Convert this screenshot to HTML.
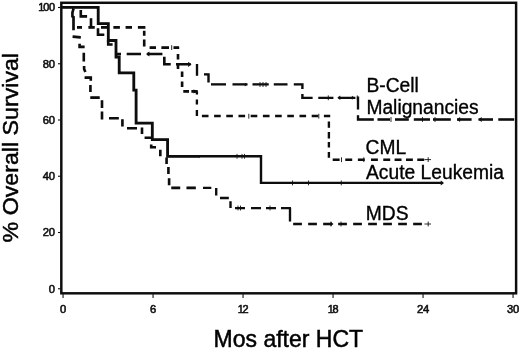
<!DOCTYPE html>
<html><head><meta charset="utf-8"><title>Overall Survival</title>
<style>
html,body{margin:0;padding:0;background:#fff;}
body{width:520px;height:349px;overflow:hidden;}
svg{display:block;}
text{font-family:"Liberation Sans",sans-serif;fill:#050505;}
</style></head><body>
<svg width="520" height="349" viewBox="0 0 520 349">
<defs><filter id="soft" x="0" y="0" width="520" height="349" filterUnits="userSpaceOnUse"><feGaussianBlur stdDeviation="0.38"/></filter></defs>
<rect x="0" y="0" width="520" height="349" fill="#ffffff"/>
<g filter="url(#soft)">
<rect x="61.3" y="2.8" width="454.8" height="290.5" fill="none" stroke="#080808" stroke-width="2.45"/>
<g stroke="#111" stroke-width="1.1">
<line x1="58" y1="288.75" x2="60.5" y2="288.75"/>
<line x1="58" y1="232.50" x2="60.5" y2="232.50"/>
<line x1="58" y1="176.25" x2="60.5" y2="176.25"/>
<line x1="58" y1="120.00" x2="60.5" y2="120.00"/>
<line x1="58" y1="63.75" x2="60.5" y2="63.75"/>
<line x1="58" y1="7.50" x2="60.5" y2="7.50"/>
<line x1="63.05" y1="294" x2="63.05" y2="298.1"/>
<line x1="153.05" y1="294" x2="153.05" y2="298.1"/>
<line x1="243.05" y1="294" x2="243.05" y2="298.1"/>
<line x1="333.05" y1="294" x2="333.05" y2="298.1"/>
<line x1="423.05" y1="294" x2="423.05" y2="298.1"/>
<line x1="513.05" y1="294" x2="513.05" y2="298.1"/>
</g>
<g stroke="#0d0d0d" stroke-width="0.55" letter-spacing="-0.3">
<text transform="translate(54.70,292.50) scale(1.020,1)" font-size="11.00" text-anchor="end">0</text>
<text transform="translate(54.70,236.25) scale(1.020,1)" font-size="11.00" text-anchor="end">20</text>
<text transform="translate(54.70,180.00) scale(1.020,1)" font-size="11.00" text-anchor="end">40</text>
<text transform="translate(54.70,123.75) scale(1.020,1)" font-size="11.00" text-anchor="end">60</text>
<text transform="translate(54.70,67.50) scale(1.020,1)" font-size="11.00" text-anchor="end">80</text>
<text transform="translate(54.70,11.25) scale(1.020,1)" font-size="10.70" text-anchor="end">1<tspan dx="-0.9">00</tspan></text>
<text transform="translate(63.05,313.10) scale(1.020,1)" font-size="11.00" text-anchor="middle">0</text>
<text transform="translate(153.05,313.10) scale(1.020,1)" font-size="11.00" text-anchor="middle">6</text>
<text transform="translate(243.05,313.10) scale(1.020,1)" font-size="10.70" text-anchor="middle">1<tspan dx="-0.9">2</tspan></text>
<text transform="translate(333.05,313.10) scale(1.020,1)" font-size="10.70" text-anchor="middle">1<tspan dx="-0.9">8</tspan></text>
<text transform="translate(423.05,313.10) scale(1.020,1)" font-size="11.00" text-anchor="middle">24</text>
<text transform="translate(513.05,313.10) scale(1.020,1)" font-size="11.00" text-anchor="middle">30</text>
</g>
<text transform="translate(288.30,346.80) scale(0.975,1)" font-size="23.60" text-anchor="middle" stroke="#050505" stroke-width="0.5">Mos after HCT</text>
<text transform="translate(18.4,147.7) rotate(-90) scale(1.074,1)" font-size="21.6" text-anchor="middle" stroke="#050505" stroke-width="0.45">% Overall Survival</text>
<text transform="translate(366.40,91.60) scale(0.997,1)" font-size="19.30" text-anchor="start" stroke="#050505" stroke-width="0.35">B-Cell</text>
<text transform="translate(366.40,113.50) scale(0.997,1)" font-size="19.30" text-anchor="start" stroke="#050505" stroke-width="0.35">Malignancies</text>
<text transform="translate(365.60,153.60) scale(0.997,1)" font-size="19.30" text-anchor="start" stroke="#050505" stroke-width="0.35">CML</text>
<text transform="translate(366.00,178.50) scale(0.997,1)" font-size="19.30" text-anchor="start" stroke="#050505" stroke-width="0.35">Acute Leukemia</text>
<text transform="translate(365.80,219.60) scale(0.997,1)" font-size="19.30" text-anchor="start" stroke="#050505" stroke-width="0.35">MDS</text>
<path d="M61.30 7.30 H98.20 V23.60 H108.30 V40.50 H116.00 V57.00 H119.20 V72.80 H133.80 V90.20 H136.10 V123.20 H152.30 V139.60 H167.60 V156.30 H200.00" fill="none" stroke="#080808" stroke-width="2.80" stroke-linejoin="miter"/>
<path d="M199.00 156.30 H261.00 V182.90 H442.50" fill="none" stroke="#080808" stroke-width="2.40" stroke-linejoin="miter"/>
<path d="M73.6 8.3 L72.4 12.6 V16.4 L73.5 17 V30.2 M72.6 36.6 L80.8 37.4 M79.6 43.8 V46.9 H84.6 M83.80 52.70 V61.50 M84.1 65.9 V69 L85.4 72 M84.6 77.6 H90.8 V80.8 M90.40 85.00 V92.00 M90.30 97.60 H99.70 M102.00 100.20 V108.00 M102.00 111.50 V119.40 M109.00 118.30 H118.80 M122.40 119.20 V126.40 M127.00 128.20 H137.00 M142.00 127.40 V134.00 M144.60 137.80 H151.00 M151.2 144.6 V147.3 H156 M160.30 149.70 V156.30 M166.60 157.50 V163.90 M168.40 167.00 V174.00 M169.1 178.3 V185.3 M171.30 187.90 H180.20 M186.50 187.90 H195.80" fill="none" stroke="#080808" stroke-width="2.60"/>
<path d="M203.00 187.90 H211.30 M216.20 187.90 V195.50 M220.00 198.00 H228.80 M230.50 201.20 V208.00 M235.00 208.10 H245.00 M251.00 208.10 H261.00 M266.00 208.10 H276.00 M281.00 208.10 H291.00 M290.00 208.10 V221.60 M293.20 224.00 H301.90 M308.20 224.00 H316.90 M323.20 224.00 H331.90 M338.20 224.00 H346.90 M353.20 224.00 H361.90 M368.20 224.00 H376.90 M383.20 224.00 H391.90 M398.20 224.00 H406.90 M413.20 224.00 H421.90" fill="none" stroke="#080808" stroke-width="2.35"/>
<path d="M77.00 27.40 H82.00 M88.40 27.40 H94.70 M101.00 27.40 H107.30 M113.40 27.40 H119.90 M125.60 27.40 H132.00 M137.90 27.40 H145.30 M144.20 27.40 V28.50 M144.20 30.80 V35.80 M144.20 39.60 V46.50 M149.60 47.60 H156.00 M161.40 47.60 H169.00 M173.50 47.60 H179.10 M178.00 47.60 V48.50 M178.00 53.90 V59.60 M178.00 64.20 V69.00 M182.10 71.50 V77.00 M182.10 81.40 V87.10 M183.30 91.40 H189.00 M191.40 91.40 H197.70" fill="none" stroke="#080808" stroke-width="2.60"/>
<path d="M196.90 91.40 V94.60 M196.90 99.40 V104.40 M196.90 110.10 V116.10 M201.90 116.00 H208.50 M214.10 116.00 H220.70 M226.30 116.00 H232.90 M238.50 116.00 H245.10 M250.70 116.00 H257.30 M262.90 116.00 H269.50 M275.10 116.00 H281.70 M287.30 116.00 H293.90 M299.50 116.00 H306.10 M311.70 116.00 H318.30 M323.90 116.00 H330.20 M328.90 121.40 V127.70 M328.90 132.10 V138.40 M328.90 141.90 V147.60 M328.90 152.00 V157.70 M332.70 159.70 H339.60 M345.30 159.70 H352.20 M357.90 159.70 H364.80 M371.00 159.70 H377.90 M383.30 159.70 H390.20 M394.60 159.70 H401.50 M406.00 159.70 H412.90 M417.30 159.70 H424.20" fill="none" stroke="#080808" stroke-width="2.35"/>
<path d="M80.8 10 V16.4 H87.1 M91.00 18.30 V27.50 M98 28.3 V34.7 H104.3 M108.2 40 V44.5 H112.6 M117.00 54.00 H121.00 M126.70 54.00 H141.00 M147.00 54.00 H162.40 M164.3 56.8 V64.3 H170.7 M176.00 64.30 H190.60" fill="none" stroke="#080808" stroke-width="2.60"/>
<path d="M197.00 64.00 V75.80 M204 74.4 H208.5 V82.5 M211.00 84.40 H226.00 M232.50 84.40 H247.50 M252.50 84.40 H268.70 M273.80 84.40 H287.50 M293.8 84.4 H302.4 V88.9 M302.4 93.9 V97.8 H312.6 M318.30 97.80 H333.40 M338.50 97.80 H355.40 M358 96.5 V109.6 M358 115.3 V119.5 H373.8 M377.50 119.50 H390.00 M395.00 119.50 H408.80 M413.80 119.50 H430.00 M433.00 119.50 H450.80 M457.00 119.50 H471.60 M478.50 119.50 H493.00 M498.30 119.50 H514.20" fill="none" stroke="#080808" stroke-width="2.35"/>
<g stroke="#111" stroke-width="0.9">
<line x1="237.00" y1="153.90" x2="237.00" y2="158.70"/>
<line x1="242.00" y1="153.90" x2="242.00" y2="158.70"/>
<line x1="244.50" y1="153.90" x2="244.50" y2="158.70"/>
<line x1="292.50" y1="180.50" x2="292.50" y2="185.30"/>
<line x1="308.50" y1="180.50" x2="308.50" y2="185.30"/>
<line x1="341.30" y1="180.50" x2="341.30" y2="185.30"/>
<line x1="171.70" y1="45.20" x2="171.70" y2="50.00"/>
<line x1="248.80" y1="113.80" x2="248.80" y2="118.60"/>
<line x1="318.80" y1="113.80" x2="318.80" y2="118.60"/>
<line x1="341.50" y1="157.30" x2="341.50" y2="162.10"/>
<line x1="363.80" y1="157.30" x2="363.80" y2="162.10"/>
<line x1="428.20" y1="157.20" x2="428.20" y2="162.00"/>
<line x1="238.00" y1="205.60" x2="238.00" y2="210.40"/>
<line x1="240.50" y1="205.60" x2="240.50" y2="210.40"/>
<line x1="270.00" y1="205.60" x2="270.00" y2="210.40"/>
<line x1="331.00" y1="221.60" x2="331.00" y2="226.40"/>
<line x1="341.00" y1="221.60" x2="341.00" y2="226.40"/>
<line x1="428.20" y1="221.60" x2="428.20" y2="226.40"/>
<line x1="260.00" y1="82.10" x2="260.00" y2="86.90"/>
<line x1="263.00" y1="82.10" x2="263.00" y2="86.90"/>
<line x1="266.00" y1="82.10" x2="266.00" y2="86.90"/>
<line x1="328.30" y1="95.40" x2="328.30" y2="100.20"/>
<line x1="357.30" y1="95.40" x2="357.30" y2="100.20"/>
<line x1="391.00" y1="117.10" x2="391.00" y2="121.90"/>
<line x1="422.50" y1="117.10" x2="422.50" y2="121.90"/>
<line x1="435.00" y1="117.10" x2="435.00" y2="121.90"/>
</g>
<g fill="#0a0a0a">
<path d="M444.00 182.90 L440.75 180.40 L440.75 185.40 Z"/>
<path d="M191.50 64.30 L188.12 61.70 L188.12 66.90 Z"/>
<path d="M196.50 91.40 L193.64 89.20 L193.64 93.60 Z"/>
<path d="M146.00 54.00 L149.38 51.40 L149.38 56.60 Z"/>
<path d="M247.30 84.60 L244.83 82.70 L244.83 86.50 Z"/>
<path d="M337.30 97.80 L340.29 95.50 L340.29 100.10 Z"/>
<path d="M354.50 97.80 L351.90 95.80 L351.90 99.80 Z"/>
<path d="M457.00 119.50 L460.12 117.10 L460.12 121.90 Z"/>
<path d="M478.50 119.50 L481.62 117.10 L481.62 121.90 Z"/>
<path d="M333.50 224.00 L330.64 221.80 L330.64 226.20 Z"/>
</g>
<g stroke="#111" stroke-width="0.9"><line x1="424.5" y1="159.6" x2="431" y2="159.6"/><line x1="424.5" y1="224" x2="431" y2="224"/></g>
</g>
</svg>
</body></html>
